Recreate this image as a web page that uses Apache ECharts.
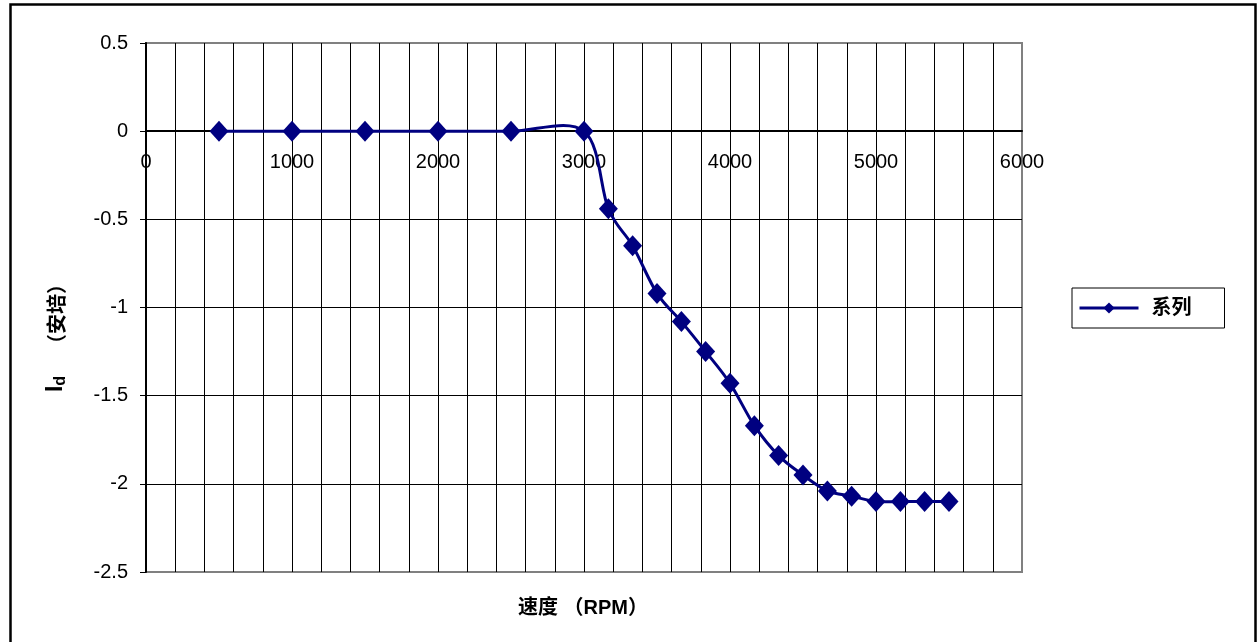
<!DOCTYPE html>
<html>
<head>
<meta charset="utf-8">
<script src="https://cdn.jsdelivr.net/npm/echarts@6/dist/echarts.min.js"></script>
<style>
html,body{margin:0;padding:0;background:#fff;}
#chart{width:1257px;height:642px;}
</style>
</head>
<body>
<div id="chart"></div>
<script>
// Data
const speedRPM = [500, 1000, 1500, 2000, 2500, 3000, 3167, 3333, 3500, 3667, 3833, 4000, 4167, 4333, 4500, 4667, 4833, 5000, 5167, 5333, 5500];
const idAmps   = [0, 0, 0, 0, 0, 0, -0.44, -0.65, -0.92, -1.08, -1.25, -1.43, -1.67, -1.84, -1.95, -2.04, -2.07, -2.10, -2.10, -2.10, -2.10];
const seriesName = '系列';
const xTitle = '速度 （RPM）';
const yTitleMain = 'I';
const yTitleSub = 'd';
const yTitleUnit = '（安培）';

const points = speedRPM.map((v, i) => [v, idAmps[i]]);
const N = points.length;

const chart = echarts.init(document.getElementById('chart'));
const font = '"Liberation Sans", Arial, sans-serif';
const cjk = '"Liberation Sans", "Noto Sans CJK SC", sans-serif';
const navy = '#000080';

// Excel-like smoothed segment (Catmull-Rom style Bezier) between point i and i+1, in pixel space via the axes
function renderSegment(params, api) {
  const i = params.dataIndex;
  if (i >= N - 1) return null;
  const c = k => api.coord(points[Math.max(0, Math.min(N - 1, k))]);
  const p0 = c(i - 1), p1 = c(i), p2 = c(i + 1), p3 = c(i + 2);
  const t = 1 / 6;
  return {
    type: 'bezierCurve',
    shape: {
      x1: p1[0], y1: p1[1], x2: p2[0], y2: p2[1],
      cpx1: p1[0] + (p2[0] - p0[0]) * t, cpy1: p1[1] + (p2[1] - p0[1]) * t,
      cpx2: p2[0] - (p3[0] - p1[0]) * t, cpy2: p2[1] - (p3[1] - p1[1]) * t
    },
    style: { fill: 'none', stroke: navy, lineWidth: 3, lineCap: 'round', lineJoin: 'round' }
  };
}

chart.setOption({
  backgroundColor: '#fff',
  animation: false,
  grid: {
    left: 146, right: 235, top: 43, bottom: 70,
    show: true, borderColor: '#808080', borderWidth: 2, backgroundColor: 'transparent'
  },
  legend: {
    orient: 'vertical',
    left: 1072, top: 288,
    data: [seriesName],
    itemWidth: 59, itemHeight: 14,
    padding: [10, 33, 10, 6],
    borderColor: '#000', borderWidth: 1,
    lineStyle: { color: navy, width: 3, opacity: 1 },
    textStyle: { fontSize: 20, fontWeight: 'bold', color: '#000', fontFamily: cjk, padding: [0, 0, 0, 8] }
  },
  xAxis: {
    type: 'value', min: 0, max: 6000, interval: 200,
    offset: -441,
    axisLine: { onZero: false, lineStyle: { color: '#000', width: 2 } },
    axisTick: { show: false },
    axisLabel: {
      color: '#000', fontSize: 20, fontFamily: font, margin: 21,
      formatter: v => (v % 1000 === 0 ? String(v) : '')
    },
    splitLine: { show: true, showMinLine: false, showMaxLine: false, lineStyle: { color: '#000', width: 1 } }
  },
  yAxis: {
    type: 'value', min: -2.5, max: 0.5, interval: 0.5,
    axisLine: { show: true, onZero: false, lineStyle: { color: '#000', width: 2 } },
    axisTick: { show: true, length: 6, lineStyle: { color: '#000', width: 1 } },
    axisLabel: { color: '#000', fontSize: 20, fontFamily: font, margin: 18 },
    splitLine: { show: true, showMinLine: false, showMaxLine: false, lineStyle: { color: '#000', width: 1 } }
  },
  series: [
    {
      name: 'curve',
      type: 'custom',
      coordinateSystem: 'cartesian2d',
      data: points,
      encode: { x: 0, y: 1 },
      renderItem: renderSegment,
      silent: true,
      z: 4
    },
    {
      name: seriesName,
      type: 'line',
      data: points,
      symbol: 'diamond',
      symbolSize: [19, 21],
      lineStyle: { color: navy, width: 3, opacity: 0 },
      itemStyle: { color: navy },
      z: 5
    }
  ],
  graphic: [
    {
      type: 'rect', z: 100, silent: true,
      shape: { x: 10.5, y: 4.5, width: 1245, height: 700 },
      style: { fill: 'none', stroke: '#000', lineWidth: 2.5 }
    },
    {
      type: 'text', z: 100, silent: true,
      x: 583, y: 608,
      style: {
        text: xTitle, align: 'center', verticalAlign: 'middle',
        fontSize: 20, fontWeight: 'bold', fontFamily: cjk, fill: '#000'
      }
    },
    {
      type: 'text', z: 100, silent: true,
      x: 56, y: 333, rotation: Math.PI / 2,
      style: {
        text: '{m|' + yTitleMain + '}{s|' + yTitleSub + '}{g| }{u|' + yTitleUnit + '}',
        align: 'center', verticalAlign: 'middle',
        rich: {
          m: { fontSize: 23, fontWeight: 'bold', fontFamily: font, color: '#000' },
          s: { fontSize: 16, fontWeight: 'bold', fontFamily: font, color: '#000', padding: [9, 0, 0, 0] },
          g: { width: 22, fontSize: 20 },
          u: { fontSize: 20, fontWeight: 'bold', fontFamily: '"Noto Sans CJK SC", sans-serif', color: '#000' }
        }
      }
    }
  ]
});
</script>
</body>
</html>
